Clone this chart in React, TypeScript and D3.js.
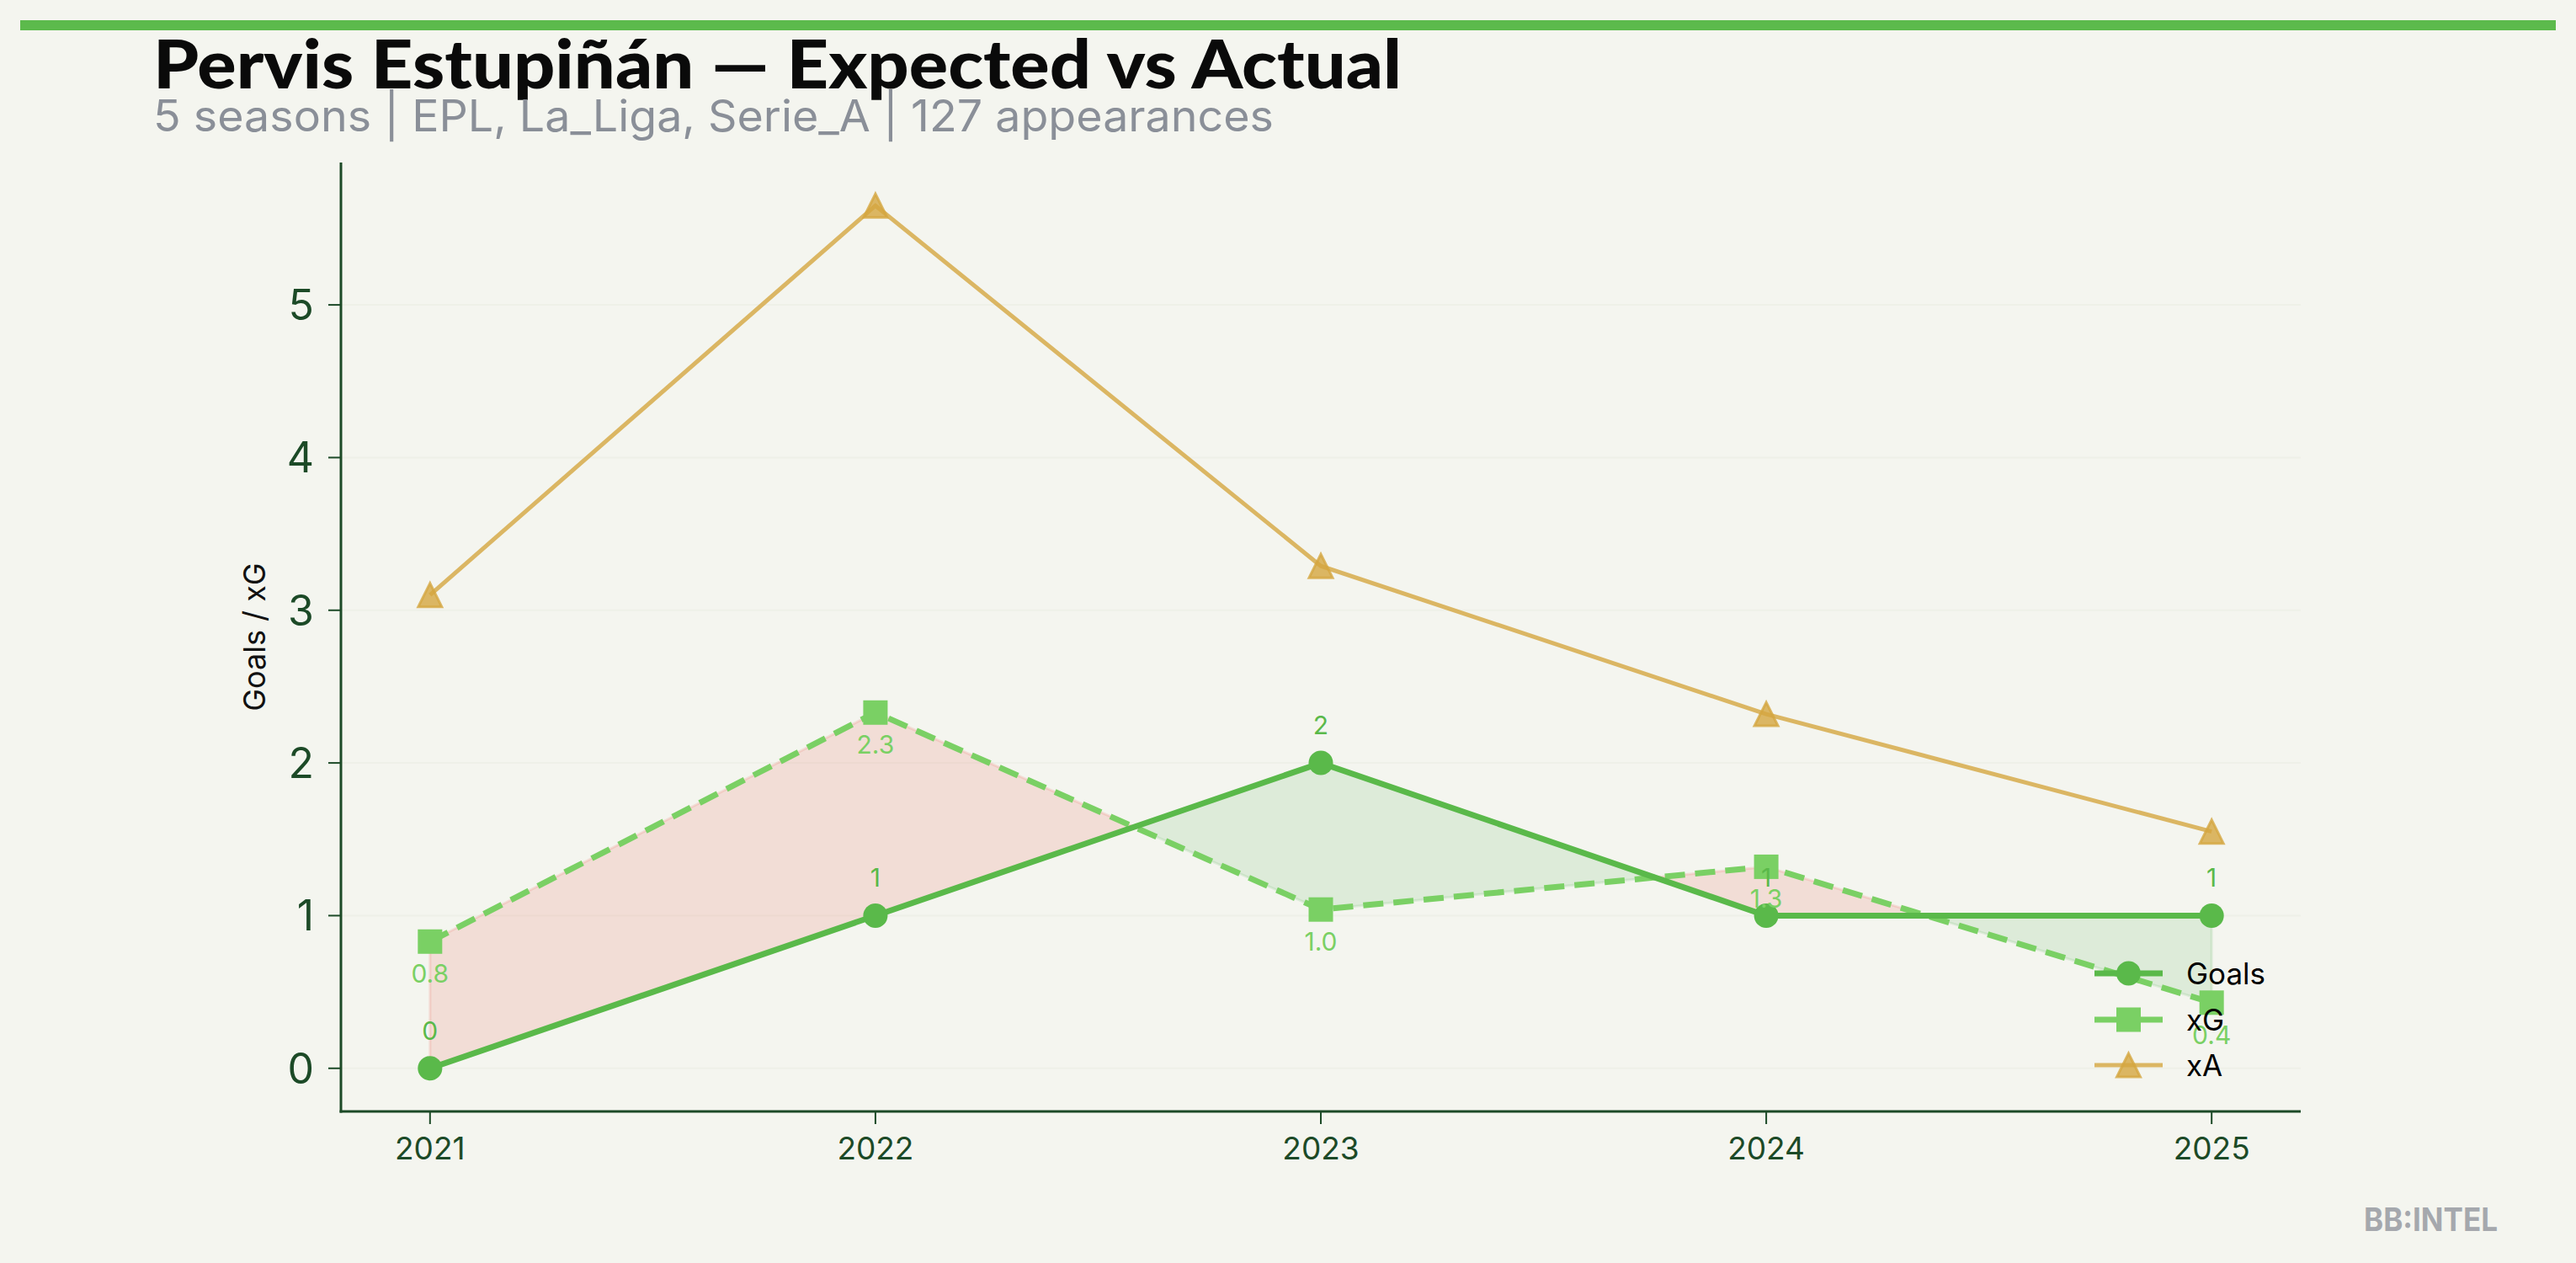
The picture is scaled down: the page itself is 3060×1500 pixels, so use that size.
import React from "react";
import * as d3 from "d3";

const seasons = [2021, 2022, 2023, 2024, 2025];
const goals = [0, 1, 2, 1, 1];
const xG = [0.83, 2.33, 1.04, 1.32, 0.43];
const xA = [3.1, 5.65, 3.29, 2.32, 1.55];
const yTicks = [0, 1, 2, 3, 4, 5];
const legendItems = ["Goals", "xG", "xA"];

const TITLE = "Pervis Estupiñán — Expected vs Actual";
const SUBTITLE = "5 seasons | EPL, La_Liga, Serie_A | 127 appearances";

const W = 3060;
const H = 1500;
const BG = "#f4f5ef";
const AXIS = "#1c4a27";
const C_GOALS = "#5ab94a";
const C_XG = "#7ad064";
const C_XA = "#d4a640";
const FONT = "Inter, 'Noto Sans', sans-serif";

type P = { x: number; g: number; e: number };

function buildRegions() {
  const pts: P[] = [];
  for (let i = 0; i < seasons.length; i++) {
    pts.push({ x: seasons[i], g: goals[i], e: xG[i] });
    if (i < seasons.length - 1) {
      const d0 = xG[i] - goals[i];
      const d1 = xG[i + 1] - goals[i + 1];
      if (d0 * d1 < 0) {
        const t = d0 / (d0 - d1);
        pts.push({
          x: seasons[i] + t * (seasons[i + 1] - seasons[i]),
          g: goals[i] + t * (goals[i + 1] - goals[i]),
          e: xG[i] + t * (xG[i + 1] - xG[i]),
        });
      }
    }
  }
  const regions: { pos: boolean; pts: P[] }[] = [];
  for (let i = 0; i < pts.length - 1; i++) {
    const a = pts[i];
    const b = pts[i + 1];
    const mid = (a.e + b.e) / 2 - (a.g + b.g) / 2;
    const pos = mid > 0;
    const last = regions[regions.length - 1];
    if (last && last.pos === pos) {
      last.pts.push(b);
    } else {
      regions.push({ pos, pts: [a, b] });
    }
  }
  return regions;
}

export default function App() {
  const allY = [...goals, ...xG, ...xA];
  const yMin = d3.min(allY) as number;
  const yMax = d3.max(allY) as number;
  const yPad = (yMax - yMin) * 0.05;
  const xMin = d3.min(seasons) as number;
  const xMax = d3.max(seasons) as number;
  const xPad = (xMax - xMin) * 0.05;

  const left = 405;
  const right = 2733;
  const top = 193;
  const bottom = 1320;

  const x = d3.scaleLinear().domain([xMin - xPad, xMax + xPad]).range([left, right]);
  const y = d3.scaleLinear().domain([yMin - yPad, yMax + yPad]).range([bottom, top]);

  const lineGen = d3
    .line<number>()
    .x((_, i) => x(seasons[i]))
    .y((d) => y(d));

  const regions = buildRegions();
  const area = d3
    .area<P>()
    .x((d) => x(d.x))
    .y0((d) => y(d.g))
    .y1((d) => y(d.e));

  const tri = (cx: number, cy: number, s: number) =>
    `M${cx},${cy - s / 2}L${cx - s / 2},${cy + s / 2}L${cx + s / 2},${cy + s / 2}Z`;

  const legendY = [1156, 1211, 1265];
  const lx0 = 2488;
  const lx1 = 2569;
  const lxm = (lx0 + lx1) / 2;

  return (
    <div style={{ position: "absolute", left: 0, top: 0 }}>
      <svg width={W} height={H} style={{ display: "block" }}>
        <rect x={0} y={0} width={W} height={H} fill={BG} />
        <rect x={24} y={24} width={3012} height={12} fill="#5cba4c" />
        <text
          x={182}
          y={105}
          fontFamily="Lato, Inter, sans-serif"
          fontWeight={900}
          fontSize={80}
          fill="#0a0a0a"
          textLength={1483}
          lengthAdjust="spacingAndGlyphs"
        >
          {TITLE}
        </text>
        <text
          x={182}
          y={156}
          fontFamily={FONT}
          fontSize={52}
          fill="#8a8f98"
          textLength={1331}
          lengthAdjust="spacingAndGlyphs"
        >
          {SUBTITLE}
        </text>

        {/* grid */}
        {yTicks.map((t) => (
          <line key={"g" + t} x1={left} x2={right} y1={y(t)} y2={y(t)} stroke="#eef0e8" strokeWidth={2} />
        ))}

        {/* fills */}
        {regions.map((r, i) => (
          <path
            key={"r" + i}
            d={area(r.pts) as string}
            fill={r.pos ? "#ea5a4a" : "#5cb85c"}
            fillOpacity={0.15}
            stroke={r.pos ? "#ea5a4a" : "#5cb85c"}
            strokeOpacity={0.15}
            strokeWidth={3}
          />
        ))}

        {/* xA line */}
        <path d={lineGen(xA) as string} fill="none" stroke={C_XA} strokeOpacity={0.8} strokeWidth={5} />
        {xA.map((v, i) => (
          <path
            key={"a" + i}
            d={tri(x(seasons[i]), y(v), 28)}
            fill={C_XA}
            fillOpacity={0.8}
            stroke={C_XA}
            strokeOpacity={0.8}
            strokeWidth={3}
            strokeLinejoin="miter"
          />
        ))}

        {/* xG line */}
        <path
          d={lineGen(xG) as string}
          fill="none"
          stroke={C_XG}
          strokeWidth={7}
          strokeDasharray="24,12"
        />
        {xG.map((v, i) => (
          <rect key={"e" + i} x={x(seasons[i]) - 14.5} y={y(v) - 14.5} width={29} height={29} fill={C_XG} />
        ))}

        {/* Goals line */}
        <path d={lineGen(goals) as string} fill="none" stroke={C_GOALS} strokeWidth={7} />
        {goals.map((v, i) => (
          <circle key={"c" + i} cx={x(seasons[i])} cy={y(v)} r={14.5} fill={C_GOALS} />
        ))}

        {/* data labels */}
        {xG.map((v, i) => (
          <text
            key={"le" + i}
            x={x(seasons[i])}
            y={y(v) + 49}
            textAnchor="middle"
            fontFamily={FONT}
            fontSize={30}
            fill={C_XG}
          >
            {v.toFixed(1)}
          </text>
        ))}
        {goals.map((v, i) => (
          <text
            key={"lg" + i}
            x={x(seasons[i])}
            y={y(v) - 34}
            textAnchor="middle"
            fontFamily={FONT}
            fontSize={30}
            fill={C_GOALS}
          >
            {String(v)}
          </text>
        ))}

        {/* axes */}
        <line x1={left} x2={left} y1={top} y2={bottom + 1.5} stroke={AXIS} strokeWidth={3} />
        <line x1={left - 1.5} x2={right} y1={bottom} y2={bottom} stroke={AXIS} strokeWidth={3} />
        {yTicks.map((t) => (
          <g key={"yt" + t}>
            <line x1={left - 15} x2={left} y1={y(t)} y2={y(t)} stroke={AXIS} strokeWidth={2} />
            <text
              x={373}
              y={y(t)}
              dy="0.36em"
              textAnchor="end"
              fontFamily={FONT}
              fontSize={50}
              fill={AXIS}
            >
              {String(t)}
            </text>
          </g>
        ))}
        {seasons.map((s) => (
          <g key={"xt" + s}>
            <line x1={x(s)} x2={x(s)} y1={bottom} y2={bottom + 15} stroke={AXIS} strokeWidth={2} />
            <text x={x(s)} y={1377} textAnchor="middle" fontFamily={FONT} fontSize={37} fill={AXIS}>
              {String(s)}
            </text>
          </g>
        ))}
        <text
          transform={`translate(315, ${(top + bottom) / 2}) rotate(-90)`}
          textAnchor="middle"
          fontFamily={FONT}
          fontSize={36}
          fill="#111"
        >
          Goals / xG
        </text>

        {/* legend */}
        <line x1={lx0} x2={lx1} y1={legendY[0]} y2={legendY[0]} stroke={C_GOALS} strokeWidth={7} />
        <circle cx={lxm} cy={legendY[0]} r={14.5} fill={C_GOALS} />
        <line x1={lx0} x2={lx1} y1={legendY[1]} y2={legendY[1]} stroke={C_XG} strokeWidth={7} />
        <rect x={lxm - 14.5} y={legendY[1] - 14.5} width={29} height={29} fill={C_XG} />
        <line x1={lx0} x2={lx1} y1={legendY[2]} y2={legendY[2]} stroke={C_XA} strokeOpacity={0.8} strokeWidth={5} />
        <path
          d={tri(lxm, legendY[2], 28)}
          fill={C_XA}
          fillOpacity={0.8}
          stroke={C_XA}
          strokeOpacity={0.8}
          strokeWidth={3}
        />
        {legendItems.map((name, i) => (
          <text key={"lt" + i} x={2597} y={legendY[i]} dy="0.36em" fontFamily={FONT} fontSize={35} fill="#000">
            {name}
          </text>
        ))}

        <text
          x={2808}
          y={1462}
          fontFamily={FONT}
          fontWeight={700}
          fontSize={38}
          fill="#a5a8ad"
          textLength={159}
          lengthAdjust="spacingAndGlyphs"
        >
          BB:INTEL
        </text>
      </svg>
    </div>
  );
}
